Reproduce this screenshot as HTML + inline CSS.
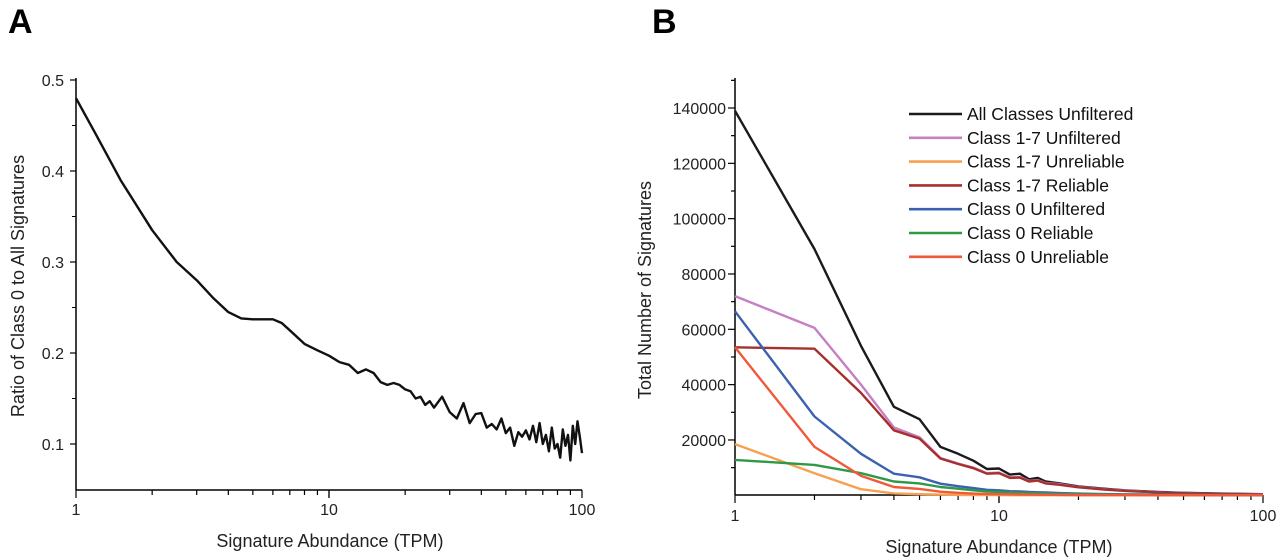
<!DOCTYPE html>
<html><head><meta charset="utf-8"><style>
body{margin:0;background:#fff;}
svg{display:block;font-family:"Liberation Sans",Arial,sans-serif;}
</style></head><body>
<svg id="chart" width="1280" height="558" viewBox="0 0 1280 558">
<text x="8" y="33" font-size="34" font-weight="bold">A</text>
<text x="652" y="33" font-size="34" font-weight="bold">B</text>
<g id="pa"></g>
<g id="pb"></g>
</svg>
<script>
// Panel A data
const aX=[1,1.2,1.5,2,2.5,3,3.5,4,4.5,5,5.5,6,6.5,7,8,9,10,11,12,13,14,15,16,17,18,19,20,21,22,23,24,25,26,28,30,32,34,36,38,40,42,44,46,48,50,52,54,56,58,60,62,64,66,68,70,72,74,76,78,80,82,84,86,88,90,92,94,96,98,100];
const aY=[.48,.44,.39,.335,.30,.28,.26,.245,.238,.237,.237,.237,.233,.225,.21,.203,.197,.19,.187,.178,.182,.178,.168,.165,.167,.165,.16,.158,.15,.152,.143,.147,.14,.152,.135,.128,.145,.123,.133,.134,.118,.122,.116,.128,.112,.118,.098,.113,.108,.115,.105,.12,.102,.123,.1,.11,.092,.118,.095,.1,.085,.116,.098,.11,.082,.12,.1,.125,.108,.09];
const aYTicks=[0.1,0.2,0.3,0.4,0.5];
const aXTicks=[1,10,100];
// Panel B data
const bX=[1,2,3,4,5,6,7,8,9,10,11,12,13,14,15,17,20,25,30,40,50,70,100];
const bNames=["All Classes Unfiltered","Class 1-7 Unfiltered","Class 1-7 Unreliable","Class 1-7 Reliable","Class 0 Unfiltered","Class 0 Reliable","Class 0 Unreliable"];
const bColors=["#1a1a1a","#c77fc4","#f7a050","#a8302c","#3b62b0","#2e9a48","#ee5a3a"];
const bAll=[139000,89000,54000,32000,27500,17500,15000,12500,9500,9700,7500,7800,5800,6300,5000,4300,3200,2400,1800,1200,900,600,400];
const b17U=[72000,60500,40000,24500,21000,13500,11500,10000,8000,8200,6500,6600,5200,5500,4500,4000,3000,2200,1700,1100,800,500,350];
const b17Un=[18500,8000,2200,700,400,250,150,100,80,60,50,40,30,30,20,20,10,10,10,10,10,10,10];
const b17R=[53500,53000,37000,23500,20500,13300,11300,9800,7800,8000,6300,6400,5000,5300,4300,3800,2900,2100,1600,1050,750,480,330];
const b0U=[66500,28500,15000,7800,6500,4200,3300,2600,2000,1800,1500,1400,1200,1100,1000,800,600,450,350,250,180,120,80];
const b0R=[12800,11000,8000,5000,4300,3000,2400,1800,1400,1200,1000,900,800,700,600,500,380,280,220,150,110,70,50];
const b0Un=[53500,17500,7000,3000,2300,1300,900,600,500,400,350,300,250,220,200,160,120,90,70,50,40,30,20];
const bSeries=[bAll,b17U,b17Un,b17R,b0U,b0R,b0Un];
const bYTicks=[20000,40000,60000,80000,100000,120000,140000];

const NS="http://www.w3.org/2000/svg";
function mk(p,tag,at){const e=document.createElementNS(NS,tag);for(const k in at)e.setAttribute(k,at[k]);p.appendChild(e);return e;}
function logAxis(p,x0,x1,yb,fx,name,off){
  const ax=mk(p,"line",{x1:x0,y1:yb,x2:x1,y2:yb,stroke:"#000","stroke-width":1.5});
  
  
  [1,10].forEach(dec=>{for(let m=1;m<=10;m++){const v=dec*m;if(v>100)continue;const major=(m===1||m===10);
    mk(p,"line",{x1:fx(v),y1:yb,x2:fx(v),y2:yb+(major?8:5),stroke:"#000","stroke-width":1.2});}});
  aXTicks.forEach(v=>{const t=mk(p,"text",{x:fx(v),y:yb+off,"font-size":16,"text-anchor":"middle",fill:"#222"});t.textContent=v;
    
    });
}
// Panel A
(function(){
  const p=document.getElementById("pa");
  const x0=76,x1=582,yTop=78,yb=490;
  const fx=v=>x0+Math.log10(v)/2*(x1-x0);
  const fy=v=>444-(v-0.1)*(444-80)/0.4;
  const yax=mk(p,"line",{x1:x0,y1:yTop,x2:x0,y2:yb,stroke:"#000","stroke-width":1.5});
  
  
  logAxis(p,x0,x1,yb,fx,"panel-a",25);
  aYTicks.forEach(v=>{mk(p,"line",{x1:x0-6,y1:fy(v),x2:x0,y2:fy(v),stroke:"#000","stroke-width":1.2});
    const t=mk(p,"text",{x:x0-12,y:fy(v)+6,"font-size":16,"text-anchor":"end",fill:"#222"});t.textContent=v.toFixed(1);
    
    });
  [0.15,0.25,0.35,0.45].forEach(v=>mk(p,"line",{x1:x0-4,y1:fy(v),x2:x0,y2:fy(v),stroke:"#000"}));
  const pts=aX.map((x,i)=>fx(x).toFixed(1)+","+fy(aY[i]).toFixed(1)).join(" ");
  const l=mk(p,"polyline",{points:pts,fill:"none",stroke:"#111","stroke-width":2.4,"stroke-linejoin":"round"});
  
  
  const xt=mk(p,"text",{x:330,y:547,"font-size":18,"text-anchor":"middle",fill:"#222"});xt.textContent="Signature Abundance (TPM)";
  
  
  const yt=mk(p,"text",{x:0,y:0,"font-size":18,"text-anchor":"middle",fill:"#222",transform:"translate(24,286) rotate(-90)"});yt.textContent="Ratio of Class 0 to All Signatures";
  
  
})();
// Panel B
(function(){
  const p=document.getElementById("pb");
  const x0=735,x1=1263,yTop=78,yb=495;
  const fx=v=>x0+Math.log10(v)/2*(x1-x0);
  const fy=v=>495.3-v*(495.3-108)/140000;
  const yax=mk(p,"line",{x1:x0,y1:yTop,x2:x0,y2:yb,stroke:"#000","stroke-width":1.5});
  
  
  logAxis(p,x0,x1,yb,fx,"panel-b",26);
  for(let v=10000;v<=150000;v+=10000){const major=v%20000===0;mk(p,"line",{x1:x0-(major?7:4),y1:fy(v),x2:x0,y2:fy(v),stroke:"#000","stroke-width":1.2});}
  bYTicks.forEach(v=>{const t=mk(p,"text",{x:x0-9,y:fy(v)+6,"font-size":16,"text-anchor":"end",fill:"#222"});t.textContent=v;
    
    });
  bSeries.forEach((s,k)=>{
    const pts=bX.map((x,i)=>fx(x).toFixed(1)+","+fy(s[i]).toFixed(1)).join(" ");
    const l=mk(p,"polyline",{points:pts,fill:"none",stroke:bColors[k],"stroke-width":2.4,"stroke-linejoin":"round"});
    
    
  });
  bNames.forEach((n,k)=>{const y=114+k*23.8;
    const g=mk(p,"g",{});
    
    
    mk(g,"line",{x1:909,y1:y,x2:962,y2:y,stroke:bColors[k],"stroke-width":2.6});
    const t=mk(g,"text",{x:967,y:y+6,"font-size":17.5,fill:"#111"});t.textContent=n;});
  const xt=mk(p,"text",{x:999,y:553,"font-size":18,"text-anchor":"middle",fill:"#222"});xt.textContent="Signature Abundance (TPM)";
  
  
  const yt=mk(p,"text",{x:0,y:0,"font-size":18,"text-anchor":"middle",fill:"#222",transform:"translate(651,290) rotate(-90)"});yt.textContent="Total Number of Signatures";
  
  
})();
</script>
</body></html>
